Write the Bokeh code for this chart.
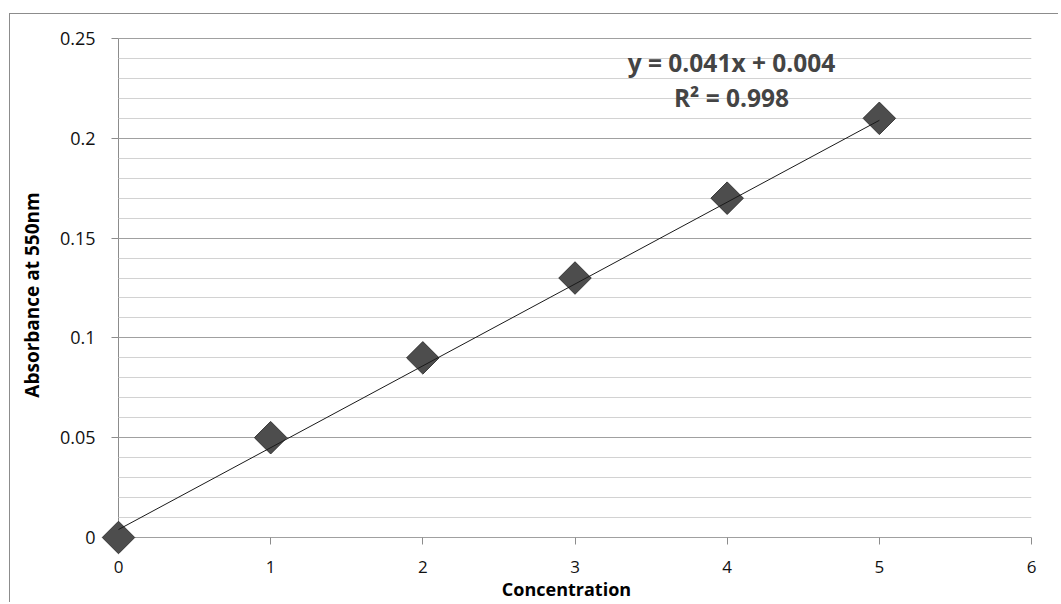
import math
from bokeh.plotting import figure
from bokeh.models import Range1d, FixedTicker, Label
from bokeh.embed import file_html
from bokeh.resources import INLINE

# data
concentration = [0, 1, 2, 3, 4, 5]
absorbance = [0.0, 0.05, 0.09, 0.13, 0.17, 0.21]
slope = 0.041
intercept = 0.004
r_squared = 0.998
x_ticks = [0, 1, 2, 3, 4, 5, 6]
y_ticks = [0, 0.05, 0.1, 0.15, 0.2, 0.25]
y_tick_labels = ["0", "0.05", "0.1", "0.15", "0.2", "0.25"]
y_minor = [round(i * 0.01, 2) for i in range(26)]

FONT = "Open Sans"

# pixel geometry of the plotting area
PX_X = 913 / 6        # pixels per x unit
PX_Y = 499 / 0.25     # pixels per y unit
PAD_L, PAD_B, PAD_T = 17, 16, 2   # extra frame so the origin marker is not cut
W, H = 1049, 589
ML, MT = 9, 13        # outer chart border position
OX, OY = ML + 1, MT + 1   # canvas origin on the page
FL, FT, FR, FB = 101, 36, 1031, 553   # frame edges on the page

p = figure(width=W, height=H, output_backend="svg", toolbar_location=None,
           x_range=Range1d(x_ticks[0] - PAD_L / PX_X, x_ticks[-1]),
           y_range=Range1d(y_ticks[0] - PAD_B / PX_Y, y_ticks[-1] + PAD_T / PX_Y),
           min_border_left=FL - OX, min_border_top=FT - OY,
           min_border_right=OX + W - FR, min_border_bottom=OY + H - FB)
p.margin = (MT, 0, 0, ML)
p.styles = {"border-left": "1px solid #8c8c8c", "border-top": "1px solid #8c8c8c"}
p.outline_line_color = None
p.background_fill_color = "white"
p.border_fill_color = "white"

p.xaxis.ticker = FixedTicker(ticks=x_ticks)
p.yaxis.ticker = FixedTicker(ticks=y_ticks)
p.yaxis.major_label_overrides = {t: l for t, l in zip(y_ticks, y_tick_labels)}

for ax in (p.xaxis, p.yaxis):
    ax.axis_line_color = None
    ax.major_tick_line_color = "#8c8c8c"
    ax.minor_tick_line_color = None
    ax.minor_tick_in = 0
    ax.minor_tick_out = 0
    ax.major_label_text_font = FONT
    ax.major_label_text_color = "#111111"
    ax.axis_label_text_font = FONT
    ax.axis_label_text_font_style = "bold"
    ax.axis_label_text_color = "black"

p.xaxis.major_label_text_font_size = "17px"
p.yaxis.major_label_text_font_size = "18px"
p.xaxis.axis_label_text_font_size = "18px"
p.yaxis.axis_label_text_font_size = "19px"

# ticks start at the zero lines (inside the padded frame) and point outward 7px
p.xaxis.major_tick_in = PAD_B
p.xaxis.major_tick_out = 7 - PAD_B
p.yaxis.major_tick_in = PAD_L
p.yaxis.major_tick_out = 7 - PAD_L

p.xaxis.axis_label = "Concentration"
p.yaxis.axis_label = "Absorbance at 550nm"
p.xaxis.major_label_standoff = 7
p.yaxis.major_label_standoff = 6
p.xaxis.axis_label_standoff = 1
p.yaxis.axis_label_standoff = 12

# horizontal grid (major + minor) limited to 0..6, acts as x axis line at 0
p.ygrid.ticker = FixedTicker(ticks=y_ticks, minor_ticks=y_minor)
p.ygrid.grid_line_color = "#a0a0a0"
p.ygrid.minor_grid_line_color = "#d2d2d2"
p.ygrid.cross_bounds = (x_ticks[0], x_ticks[-1])
# vertical line at x = 0 acting as y axis line
p.xgrid.ticker = FixedTicker(ticks=[x_ticks[0]])
p.xgrid.grid_line_color = "#8c8c8c"
p.xgrid.cross_bounds = (y_ticks[0], y_ticks[-1])

p.scatter(concentration, absorbance, marker="square", angle=math.pi / 4, size=23,
          fill_color="#4d4d4d", line_color="#353535", line_width=1, level="overlay")

x_fit = [concentration[0], concentration[-1]]
y_fit = [slope * x + intercept for x in x_fit]
p.line(x_fit, y_fit, line_color="#1a1a1a", line_width=1, level="overlay")

# annotation positions are relative to the frame's bottom-left corner
p.add_layout(Label(x=731 - FL, y=FB - 62, x_units="screen", y_units="screen",
                   text=f"y = {slope}x + {intercept}", text_font=FONT,
                   text_font_style="bold", text_font_size="24.5px",
                   text_align="center", text_baseline="middle"))
p.add_layout(Label(x=731 - FL, y=FB - 97, x_units="screen", y_units="screen",
                   text=f"R² = {r_squared}", text_font=FONT,
                   text_font_style="bold", text_font_size="24.5px",
                   text_align="center", text_baseline="middle"))

open("out.html", "w").write(file_html(p, INLINE))
